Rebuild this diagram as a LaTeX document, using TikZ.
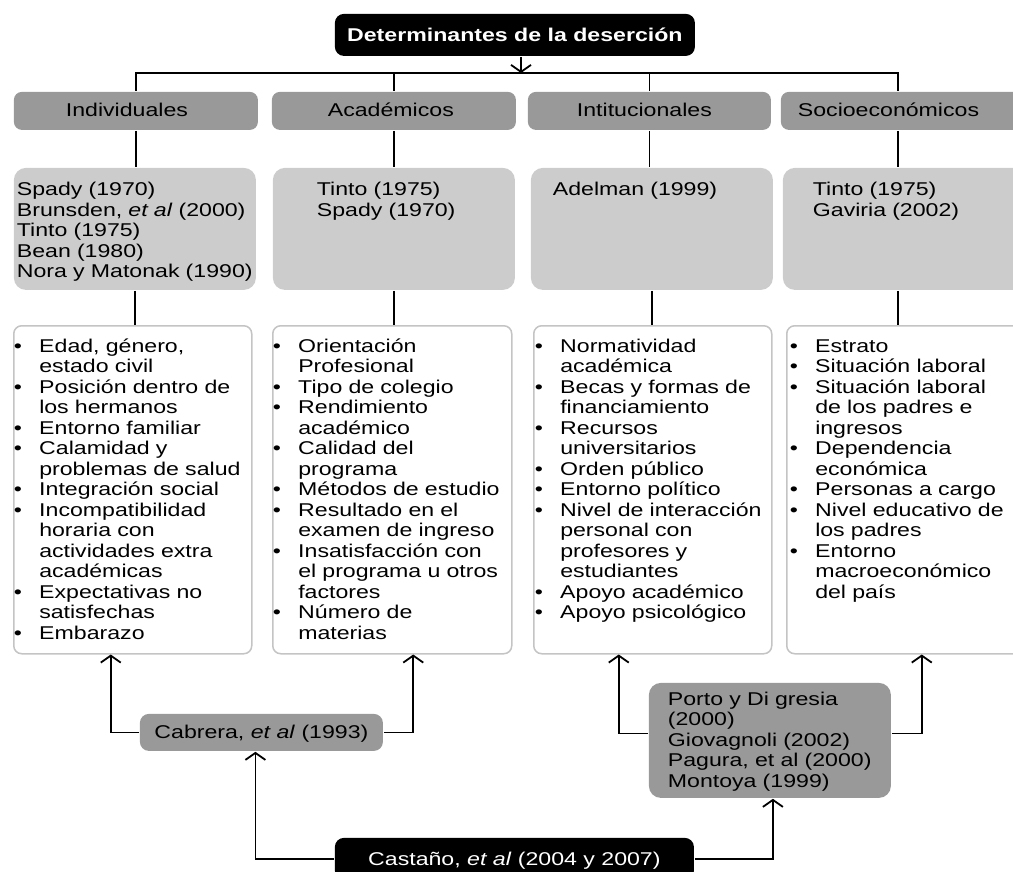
\documentclass[tikz,border=0pt]{standalone}
\usepackage{fontspec}
\setmainfont[FakeStretch=1.25]{Liberation Sans}
\usepackage{tikz}
\usetikzlibrary{arrows.meta}

\definecolor{boxdark}{HTML}{999999}
\definecolor{boxlight}{HTML}{CCCCCC}
\definecolor{boxline}{HTML}{C4C4C4}

\newcommand{\bul}{\makebox[25.5pt][l]{\textbullet}}

\begin{document}
\begin{tikzpicture}[x=1pt,y=-1pt,>={Straight Barb[length=7pt,width=20pt]},line width=1.8pt,
		font=\fontsize{18.5}{20.5}\selectfont]
		\tikzstyle{head}=[rectangle, rounded corners=9pt, fill=black, text=white, anchor=north west, minimum width=360pt, minimum height=42pt, inner sep=0pt, text height=13.5pt, text depth=0pt]
		\tikzstyle{group box}=[rectangle, rounded corners=8pt, fill=boxdark, anchor=north west, minimum height=38pt, inner ysep=0pt, text height=12pt, text depth=0pt, align=left]
		\tikzstyle{author box}=[rectangle, rounded corners=12pt, fill=boxlight, anchor=north west, inner ysep=0pt, text height=28pt, text depth=94pt]
		\tikzstyle{factor box}=[rectangle, rounded corners=8pt, draw=boxline, line width=1.5pt, fill=white, anchor=north west, inner ysep=0pt, text height=26.5pt, text depth=301.5pt]
		\tikzstyle{study box}=[rectangle, rounded corners=9pt, fill=boxdark, anchor=north west, inner sep=0pt]

		\useasboundingbox (0,0) rectangle (1013,872);
		\clip (0,0) rectangle (1013,872);

		\node [head, font=\fontsize{18.5}{20.5}\selectfont\bfseries] (title) at (334,13) {Determinantes de la deserción};
		\coordinate (bus) at (521,73);

		\node [group box, inner xsep=52pt, text width=140pt] (grindiv) at (13,91) {Individuales};
		\node [group box, inner xsep=56pt, text width=132pt] (gracad) at (271,91) {Académicos};
		\node [group box, inner xsep=49pt, text width=145pt] (grinst) at (527,91) {Intitucionales};
		\node [group box, inner xsep=17pt, text width=210pt] (grsocio) at (780,91) {Socioeconómicos};

		\node [author box, inner xsep=3pt, text width=236pt] (auindiv) at (13,167)
		{\begin{tabular}[t]{@{}l@{}}Spady (1970)\\Brunsden, \textit{et al} (2000)\\Tinto (1975)\\Bean (1980)\\Nora y Matonak (1990)\end{tabular}};
		\node [author box, inner xsep=44pt, text width=154pt] (auacad) at (272,167)
		{\begin{tabular}[t]{@{}l@{}}Tinto (1975)\\Spady (1970)\end{tabular}};
		\node [author box, inner xsep=22pt, text width=198pt] (auinst) at (530,167)
		{\begin{tabular}[t]{@{}l@{}}Adelman (1999)\end{tabular}};
		\node [author box, inner xsep=30pt, text width=182pt] (ausocio) at (782,167)
		{\begin{tabular}[t]{@{}l@{}}Tinto (1975)\\Gaviria (2002)\end{tabular}};

		\node [factor box, inner xsep=0pt, text width=238pt] (faindiv) at (13,325)
		{\begin{tabular}[t]{@{}l@{}l@{}}
			\bul & Edad, género,\\ & estado civil\\
			\bul & Posición dentro de\\ & los hermanos\\
			\bul & Entorno familiar\\
			\bul & Calamidad y\\ & problemas de salud\\
			\bul & Integración social\\
			\bul & Incompatibilidad\\ & horaria con\\ & actividades extra\\ & académicas\\
			\bul & Expectativas no\\ & satisfechas\\
			\bul & Embarazo
		\end{tabular}};
		\node [factor box, inner xsep=0pt, text width=239pt] (faacad) at (272,325)
		{\begin{tabular}[t]{@{}l@{}l@{}}
			\bul & Orientación\\ & Profesional\\
			\bul & Tipo de colegio\\
			\bul & Rendimiento\\ & académico\\
			\bul & Calidad del\\ & programa\\
			\bul & Métodos de estudio\\
			\bul & Resultado en el\\ & examen de ingreso\\
			\bul & Insatisfacción con\\ & el programa u otros\\ & factores\\
			\bul & Número de\\ & materias
		\end{tabular}};
		\node [factor box, inner xsep=1pt, text width=236pt] (fainst) at (533,325)
		{\begin{tabular}[t]{@{}l@{}l@{}}
			\bul & Normatividad\\ & académica\\
			\bul & Becas y formas de\\ & financiamiento\\
			\bul & Recursos\\ & universitarios\\
			\bul & Orden público\\
			\bul & Entorno político\\
			\bul & Nivel de interacción\\ & personal con\\ & profesores y\\ & estudiantes\\
			\bul & Apoyo académico\\
			\bul & Apoyo psicológico
		\end{tabular}};
		\node [factor box, inner xsep=3pt, text width=236pt] (fasocio) at (786,325)
		{\begin{tabular}[t]{@{}l@{}l@{}}
			\bul & Estrato\\
			\bul & Situación laboral\\
			\bul & Situación laboral\\ & de los padres e\\ & ingresos\\
			\bul & Dependencia\\ & económica\\
			\bul & Personas a cargo\\
			\bul & Nivel educativo de\\ & los padres\\
			\bul & Entorno\\ & macroeconómico\\ & del país
		\end{tabular}};

		\node [study box, minimum width=243pt, minimum height=37pt, text height=12pt, text depth=0pt] (cabrera) at (139,713) {Cabrera, \textit{et al} (1993)};
		\node [study box, rounded corners=12pt, inner xsep=19pt, text width=204pt, text height=22.5pt, text depth=92.5pt] (porto) at (648,682)
		{\begin{tabular}[t]{@{}l@{}}Porto y Di gresia\\(2000)\\Giovagnoli (2002)\\Pagura, et al (2000)\\Montoya (1999)\end{tabular}};
		\node [head, minimum width=359pt] (castano) at (334,837) {Castaño, \textit{et al} (2004 y 2007)};

		\draw [->] (title.south -| bus) -- (bus);
		\draw (grindiv.north) |- (bus) -| ([xshift=-5pt]grsocio.north);
		\draw (gracad.north) -- (gracad.north |- bus);
		\draw (grinst.north) -- (grinst.north |- bus);

		\draw (grindiv.south) -- (grindiv.south |- auindiv.north);
		\draw (gracad.south) -- (gracad.south |- auacad.north);
		\draw (grinst.south) -- (grinst.south |- auinst.north);
		\draw ([xshift=-5pt]grsocio.south) -- ([xshift=-5pt]grsocio.south |- ausocio.north);

		\draw (auindiv.south) -- (auindiv.south |- faindiv.north);
		\draw (auacad.south) -- (auacad.south |- faacad.north);
		\draw (auinst.south) -- (auinst.south |- fainst.north);
		\draw ([xshift=-6pt]ausocio.south) -- ([xshift=-6pt]ausocio.south |- fasocio.north);

		\draw [->] (cabrera.west) -| ([xshift=-22pt]faindiv.south);
		\draw [->] (cabrera.east) -| ([xshift=21pt]faacad.south);
		\draw [->] ([yshift=7pt]porto.west) -| ([xshift=-34pt]fainst.south);
		\draw [->] ([yshift=7pt]porto.east) -| ([xshift=14pt]fasocio.south);
		\draw [->] (castano.west) -| ([xshift=-6pt]cabrera.south);
		\draw [->] (castano.east) -| ([xshift=3pt]porto.south);
	\end{tikzpicture}
\end{document}
